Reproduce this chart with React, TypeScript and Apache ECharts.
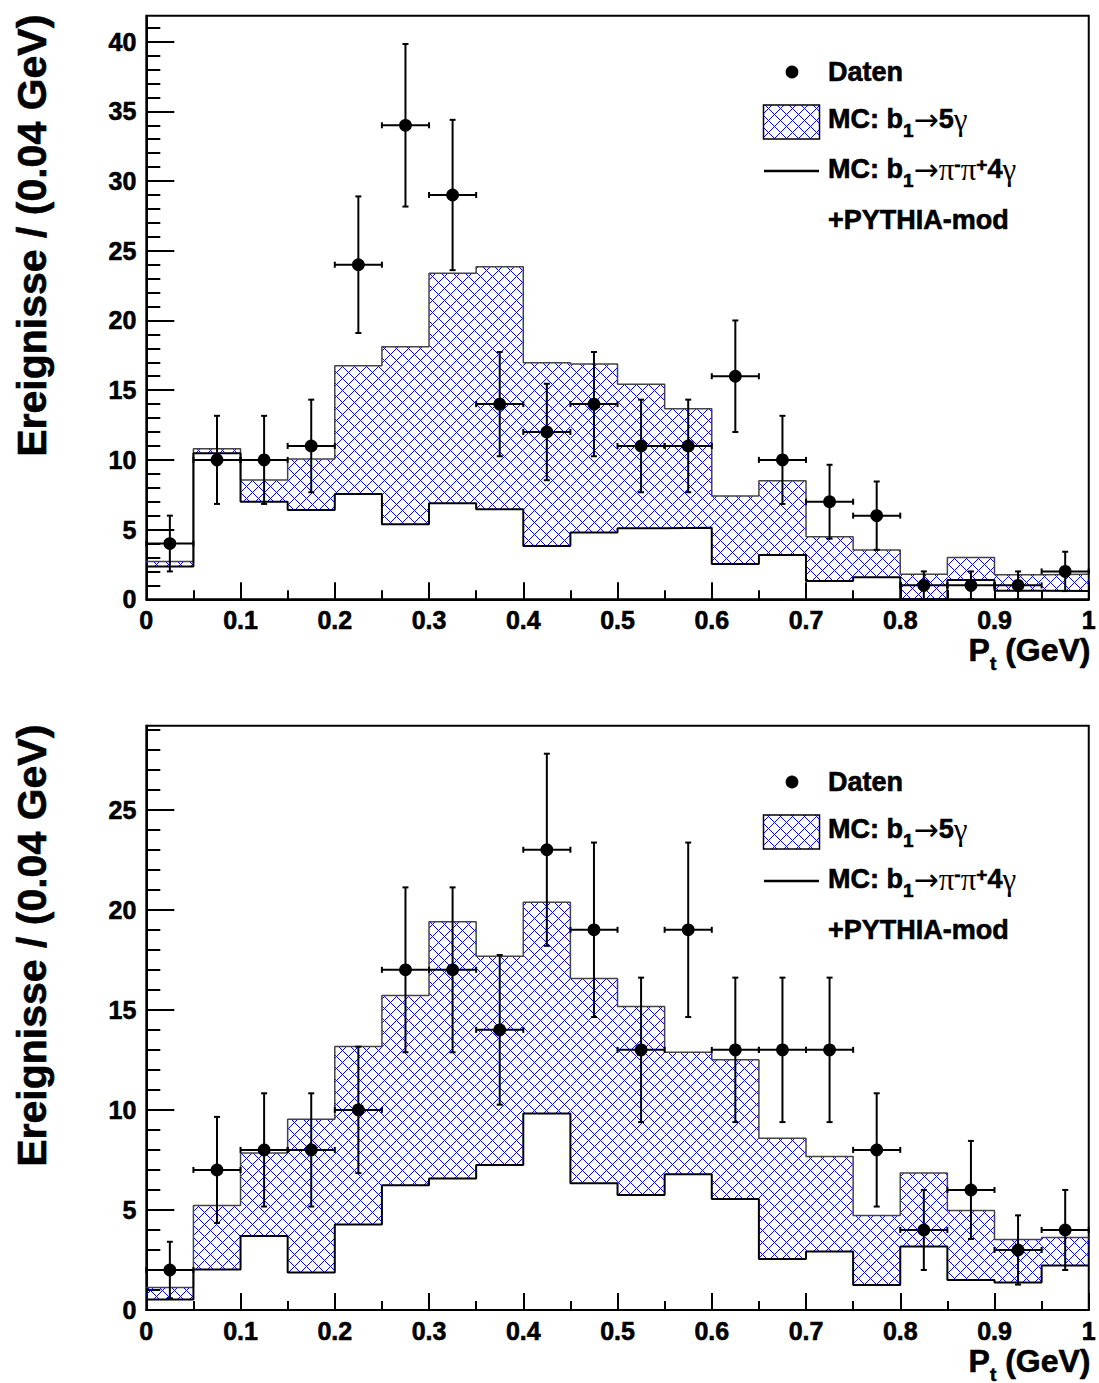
import React, { useEffect, useRef } from 'react';
import * as echarts from 'echarts';

// ---------- data ----------
const binEdges = [0.0, 0.05, 0.1, 0.15, 0.2, 0.25, 0.3, 0.35, 0.4, 0.45, 0.5, 0.55, 0.6, 0.65, 0.7, 0.75, 0.8, 0.85, 0.9, 0.95, 1.0];
const binCenters = [0.025, 0.075, 0.125, 0.175, 0.225, 0.275, 0.325, 0.375, 0.425, 0.475, 0.525, 0.575, 0.625, 0.675, 0.725, 0.775, 0.825, 0.875, 0.925, 0.975];
const binHalfWidth = 0.025;

// top panel
const dataTop = [4, 10, 10, 11, 24, 34, 29, 14, 12, 14, 11, 11, 16, 10, 7, 6, 1, 1, 1, 2];
const errTop = [2, 3.16, 3.16, 3.32, 4.9, 5.83, 5.39, 3.74, 3.46, 3.74, 3.32, 3.32, 4, 3.16, 2.65, 2.45, 1, 1, 1, 1.41];
const mcPiPiTop = [2.36, 10.47, 7.0, 6.4, 7.55, 5.38, 6.89, 6.46, 3.82, 4.8, 5.09, 5.14, 2.53, 3.18, 1.31, 1.58, 0.0, 1.38, 0.62, 0.6];
const mcStackTop = [2.72, 10.8, 8.56, 10.06, 16.76, 18.12, 23.39, 23.86, 16.97, 16.88, 15.42, 13.67, 7.41, 8.51, 4.49, 3.54, 1.8, 3.0, 1.76, 1.8];

// bottom panel
const dataBot = [2, 7, 8, 8, 10, 17, 17, 14, 23, 19, 13, 19, 13, 13, 13, 8, 4, 6, 3, 4];
const errBot = [1.41, 2.65, 2.83, 2.83, 3.16, 4.12, 4.12, 3.74, 4.8, 4.36, 3.61, 4.36, 3.61, 3.61, 3.61, 2.83, 2, 2.45, 1.73, 2];
const mcPiPiBot = [0.53, 2.03, 3.7, 1.88, 4.27, 6.23, 6.57, 7.25, 9.82, 6.33, 5.75, 6.78, 5.55, 2.55, 2.92, 1.25, 3.17, 1.5, 1.37, 2.22];
const mcStackBot = [1.13, 5.22, 7.85, 9.53, 13.17, 15.72, 19.4, 17.68, 20.38, 16.57, 15.17, 12.88, 12.5, 8.58, 7.67, 4.72, 6.85, 4.97, 3.52, 3.62];

const xTickLabels = ['0', '0.1', '0.2', '0.3', '0.4', '0.5', '0.6', '0.7', '0.8', '0.9', '1'];
const yMajorTop = [0, 5, 10, 15, 20, 25, 30, 35, 40];
const yMajorBot = [0, 5, 10, 15, 20, 25];
const yMaxTop = 41.86;
const yMaxBot = 29.2;

const yTitle = 'Ereignisse / (0.04 GeV)';

// ---------- styling ----------
const FONT = "'Liberation Sans', Arial, Helvetica, sans-serif";
const SYM = "'Liberation Serif', 'DejaVu Serif', serif";
const ARROW = "'DejaVu Sans', sans-serif";
const FAT = 0.6; // text stroke to mimic the heavy ROOT bold font
const TILE = 12;

// crisp pixel cross-hatch tile (like ROOT fill style 3144)
function makeHatchTile(): string {
  const cv = document.createElement('canvas');
  cv.width = TILE;
  cv.height = TILE;
  const ctx = cv.getContext('2d')!;
  ctx.fillStyle = '#0000ff';
  for (let k = 0; k < TILE; k++) {
    ctx.fillRect(k, k, 1, 1);
    ctx.fillRect(k, (TILE - k) % TILE, 1, 1);
  }
  return cv.toDataURL('image/png');
}

let hatchFill: any = null;
function getHatchFill() {
  if (!hatchFill) {
    hatchFill = { image: makeHatchTile(), repeat: 'repeat', imageWidth: TILE, imageHeight: TILE };
  }
  return hatchFill;
}

const GRID_LEFT = 146.3;
const GRID_W = 944.2;
const gridTops = [15.7, 725.7];
const gridHeights = [583.6, 584.3];

function buildPanel(i: number, data: number[], err: number[], lower: number[], upper: number[], yMax: number, yMajor: number[]) {
  const yMinor: number[] = [];
  for (let v = 0; v <= yMax; v += 1) yMinor.push(v);
  const axisLineStyle = { color: '#000', width: 2 };
  const labelStyle = {
    color: '#000', fontFamily: FONT, fontWeight: 'bold', fontSize: 25,
    textBorderColor: '#000', textBorderWidth: FAT,
  };
  const grid = {
    left: GRID_LEFT, top: gridTops[i], width: GRID_W, height: gridHeights[i],
    show: true, borderColor: '#000', borderWidth: 2, backgroundColor: 'transparent',
  };
  const xAxis = {
    gridIndex: i, type: 'value', min: 0, max: 1, interval: 0.1,
    axisLine: { show: true, onZero: false, lineStyle: axisLineStyle },
    axisTick: { show: true, inside: true, length: 17, lineStyle: axisLineStyle },
    minorTick: { show: true, splitNumber: 2, length: 9, lineStyle: axisLineStyle },
    axisLabel: {
      ...labelStyle, margin: 8,
      formatter: (v: number) => xTickLabels[Math.round(v * 10)] ?? '',
    },
    splitLine: { show: false }, minorSplitLine: { show: false },
  };
  const yAxes = [
    {
      gridIndex: i, type: 'value', min: 0, max: yMax, position: 'left',
      axisLine: { show: true, onZero: false, lineStyle: axisLineStyle },
      axisTick: { show: true, inside: true, length: 28, customValues: yMajor, lineStyle: axisLineStyle },
      axisLabel: {
        show: true, customValues: yMajor, ...labelStyle, margin: 10,
        formatter: (v: number) => String(v),
      },
      splitLine: { show: false },
    },
    {
      gridIndex: i, type: 'value', min: 0, max: yMax, position: 'left',
      axisLine: { show: false },
      axisTick: { show: true, inside: true, length: 14, customValues: yMinor, lineStyle: axisLineStyle },
      axisLabel: { show: false },
      splitLine: { show: false },
    },
  ];

  const bins = lower.map((lo, k) => [binEdges[k], binEdges[k + 1], lo, upper[k]]);
  const stepData = (vals: number[]) => {
    const d = vals.map((v, k) => [binEdges[k], v]);
    d.push([binEdges[vals.length], vals[vals.length - 1]]);
    return d;
  };

  const series = [
    {
      type: 'custom', xAxisIndex: i, yAxisIndex: 2 * i, z: 2, silent: true, clip: false,
      data: bins,
      renderItem: (params: any, api: any) => {
        const x0 = api.value(0), x1 = api.value(1), lo = api.value(2), up = api.value(3);
        const pA = api.coord([x0, up]);
        const pB = api.coord([x1, lo]);
        return {
          type: 'rect',
          shape: { x: pA[0], y: pA[1], width: pB[0] - pA[0], height: Math.max(0, pB[1] - pA[1]) },
          style: { fill: getHatchFill(), stroke: null },
        };
      },
    },
    {
      type: 'line', xAxisIndex: i, yAxisIndex: 2 * i, z: 3, step: 'end', symbol: 'none', silent: true,
      data: stepData(upper), lineStyle: { color: '#444', width: 1.5 },
    },
    {
      type: 'line', xAxisIndex: i, yAxisIndex: 2 * i, z: 4, step: 'end', symbol: 'none', silent: true,
      data: stepData(lower), lineStyle: { color: '#000', width: 2 },
    },
    {
      type: 'custom', xAxisIndex: i, yAxisIndex: 2 * i, z: 5, silent: true, clip: false,
      data: data.map((v, k) => [binCenters[k], v, err[k], binHalfWidth]),
      renderItem: (params: any, api: any) => {
        const x = api.value(0), y = api.value(1), e = api.value(2), hw = api.value(3);
        const c = api.coord([x, y]);
        const t = api.coord([x, y + e])[1];
        const b = api.coord([x, Math.max(0, y - e)])[1];
        const l = api.coord([x - hw, y])[0];
        const r = api.coord([x + hw, y])[0];
        const st = { stroke: '#000', lineWidth: 2 };
        const cap = 3;
        const ln = (x1: number, y1: number, x2: number, y2: number) => ({ type: 'line', shape: { x1, y1, x2, y2 }, style: st });
        return {
          type: 'group',
          children: [
            ln(c[0], t, c[0], b),
            ln(l, c[1], r, c[1]),
            ln(c[0] - cap, t, c[0] + cap, t),
            ln(c[0] - cap, b, c[0] + cap, b),
            ln(l, c[1] - cap, l, c[1] + cap),
            ln(r, c[1] - cap, r, c[1] + cap),
            { type: 'circle', shape: { cx: c[0], cy: c[1], r: 6.4 }, style: { fill: '#000' } },
          ],
        };
      },
    },
  ];
  return { grid, xAxis, yAxes, series };
}

const boldTok = { fontFamily: FONT, fontWeight: 'bold', fill: '#000', stroke: '#000', lineWidth: FAT };
const richLegend = {
  m: { ...boldTok, fontSize: 27, lineHeight: 41 },
  s: { ...boldTok, fontSize: 19, lineHeight: 19, verticalAlign: 'bottom' },
  u: { ...boldTok, fontSize: 19, lineHeight: 19, verticalAlign: 'middle', padding: [0, 0, 9, 0] },
  g: { fontFamily: SYM, fontWeight: 'normal', fontSize: 31, lineHeight: 41, fill: '#000' },
  a: { fontFamily: ARROW, fontWeight: 'normal', fontSize: 30, lineHeight: 41, fill: '#000' },
};

function legendGraphics(dy: number) {
  const bx = 763.5, by = 105 + dy, bw = 56, bh = 34;
  const els: any[] = [
    { type: 'circle', shape: { cx: 792, cy: 72 + dy, r: 6.4 }, style: { fill: '#000' } },
    { type: 'text', x: 828, y: 72 + dy, style: { text: '{m|Daten}', rich: richLegend, verticalAlign: 'middle', align: 'left' } },
    { type: 'rect', shape: { x: bx, y: by, width: bw, height: bh }, style: { fill: getHatchFill(), stroke: '#000', lineWidth: 1.5 } },
    { type: 'text', x: 828, y: 119 + dy, style: { text: '{m|MC: b}{s|1}{a|→}{m|5}{g|γ}', rich: richLegend, verticalAlign: 'middle', align: 'left' } },
    { type: 'line', shape: { x1: 764, y1: 171 + dy, x2: 819, y2: 171 + dy }, style: { stroke: '#000', lineWidth: 2.5 } },
    { type: 'text', x: 828, y: 169 + dy, style: { text: '{m|MC: b}{s|1}{a|→}{g|π}{u|-}{g|π}{u|+}{m|4}{g|γ}', rich: richLegend, verticalAlign: 'middle', align: 'left' } },
    { type: 'text', x: 828, y: 220 + dy, style: { text: '{m|+PYTHIA-mod}', rich: richLegend, verticalAlign: 'middle', align: 'left' } },
  ];
  return els;
}

const richXTitle = {
  m: { ...boldTok, fontSize: 32, lineHeight: 45 },
  s: { ...boldTok, fontSize: 19, lineHeight: 19, verticalAlign: 'bottom' },
};

function titleGraphics(i: number) {
  const top = gridTops[i];
  const bottom = gridTops[i] + gridHeights[i];
  return [
    {
      type: 'text', x: 31.5, y: top - 1, rotation: Math.PI / 2,
      style: {
        text: yTitle, fontFamily: FONT, fontWeight: 'bold', fontSize: 41, fill: '#000',
        stroke: '#000', lineWidth: FAT, align: 'right', verticalAlign: 'middle',
      },
    },
    {
      type: 'text', x: GRID_LEFT + GRID_W, y: bottom + 51,
      style: { text: '{m|P}{s|t}{m| (GeV)}', rich: richXTitle, align: 'right', verticalAlign: 'middle' },
    },
  ];
}

export default function App() {
  const ref = useRef<HTMLDivElement>(null);
  useEffect(() => {
    if (!ref.current) return;
    const chart = echarts.init(ref.current, null, { renderer: 'svg' });
    const p0 = buildPanel(0, dataTop, errTop, mcPiPiTop, mcStackTop, yMaxTop, yMajorTop);
    const p1 = buildPanel(1, dataBot, errBot, mcPiPiBot, mcStackBot, yMaxBot, yMajorBot);
    const option: any = {
      animation: false,
      backgroundColor: '#fff',
      grid: [p0.grid, p1.grid],
      xAxis: [p0.xAxis, p1.xAxis],
      yAxis: [...p0.yAxes, ...p1.yAxes],
      series: [...p0.series, ...p1.series],
      graphic: [
        ...titleGraphics(0), ...titleGraphics(1),
        ...legendGraphics(0), ...legendGraphics(710),
      ].map((g) => ({ ...g, z: 10, silent: true })),
    };
    chart.setOption(option);
    return () => chart.dispose();
  }, []);
  return <div ref={ref} style={{ position: 'absolute', left: 0, top: 0, width: 1099, height: 1383 }} />;
}
